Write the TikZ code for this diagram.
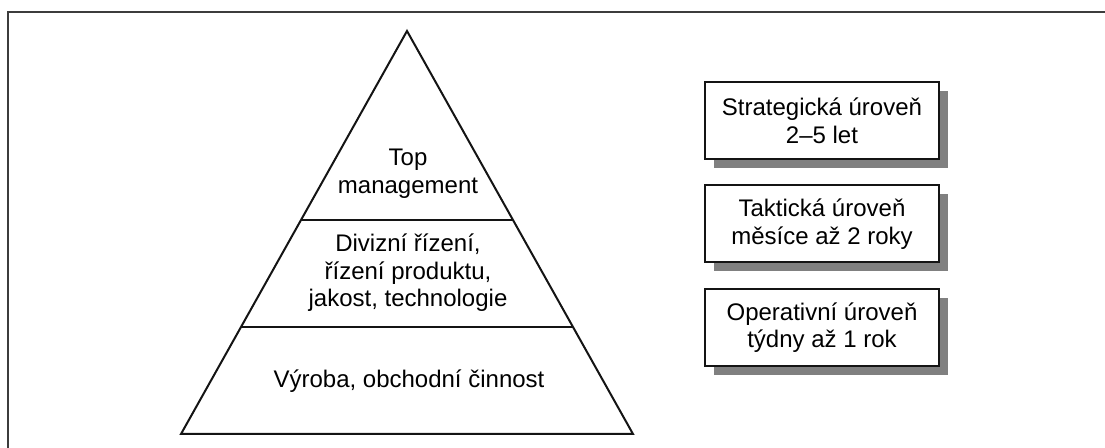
\documentclass[tikz,border=0pt]{standalone}
\usepackage{fontspec}
\setmainfont{Liberation Sans}
\usetikzlibrary{shadows,calc}
\definecolor{shadowgray}{RGB}{128,128,128}
\definecolor{framegray}{RGB}{60,60,60}
\definecolor{linecol}{RGB}{20,20,20}
\begin{document}
\begin{tikzpicture}[x=0.5pt,y=-0.5pt,
  every node/.style={font=\fontsize{12}{13.8}\selectfont, align=center, inner sep=0pt, text=black},
  levelbox/.style={draw=linecol, line width=1pt, fill=white, minimum width=117pt, minimum height=38.5pt,
    drop shadow={shadow xshift=4.5pt, shadow yshift=-4.5pt, fill=shadowgray, opacity=1}},
  pyr/.style={draw=linecol, line width=1pt}]
\useasboundingbox (0,0) rectangle (1105,448);
% frame
\draw[framegray, line width=1pt] (7.5,448) -- (7.5,12.5) -- (1105,12.5);
% pyramid
\coordinate (apex) at (407,31);
\coordinate (bl) at (181,434);
\coordinate (br) at (633,434);
\coordinate (l1) at ($(apex)!0.469!(bl)$);
\coordinate (r1) at ($(apex)!0.469!(br)$);
\coordinate (l2) at ($(apex)!0.7345!(bl)$);
\coordinate (r2) at ($(apex)!0.7345!(br)$);
\draw[pyr] (apex) -- (br) -- (bl) -- cycle;
\draw[pyr] (l1) -- (r1);
\draw[pyr] (l2) -- (r2);
\node (top) at (408,174) {Top\\management};
\node (mid) at (408,273) {Divizní řízení,\\řízení produktu,\\jakost, technologie};
\node (bot) at (409,381) {Výroba, obchodní činnost};
% level boxes
\node[levelbox] (strat) at (822,120.5) {Strategická úroveň\\2–5 let};
\node[levelbox] (takt) at (822,224) {Taktická úroveň\\měsíce až 2 roky};
\node[levelbox] (oper) at (822,327.5) {Operativní úroveň\\týdny až 1 rok};
\end{tikzpicture}
\end{document}
